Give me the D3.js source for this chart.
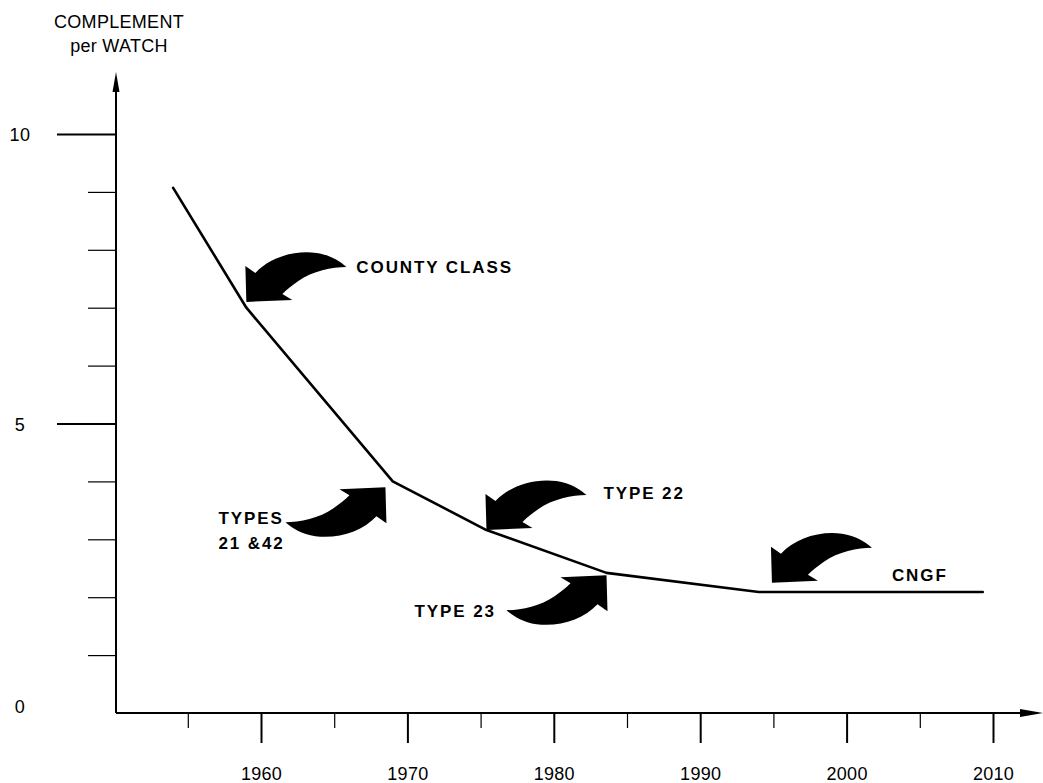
<!DOCTYPE html>
<html>
<head>
<meta charset="utf-8" />
<title>Complement per watch</title>
<style>
  html, body { margin: 0; background: #fff; }
  svg { display: block; }
  text { font-family: "Liberation Sans", Arial, sans-serif; fill: #000; }
  .tick line { stroke: #000; }
  .tick text { font-size: 18px; letter-spacing: 0.3px; }
  .note { font-size: 17px; font-weight: bold; letter-spacing: 1.9px; }
</style>
</head>
<body>
<div id="chart"></div>
<script src="https://cdn.jsdelivr.net/npm/d3@7"></script>
<script>
// complement per watch
var years = [1954, 1959, 1969, 1975.4, 1983.6, 1994, 2009.3];
var complement = [9.07, 7.0, 4.0, 3.16, 2.42, 2.09, 2.09];

var xMajor = [1960, 1970, 1980, 1990, 2000, 2010];
var xMinor = [1955, 1965, 1975, 1985, 1995, 2005];
var yMajor = [5, 10];
var yMinor = [1, 2, 3, 4, 6, 7, 8, 9];
var yLabels = [0, 5, 10];

// ship annotations (arrow tip in data units)
var noteLabels = [["COUNTY CLASS"], ["TYPE 22"], ["CNGF"], ["TYPES", "21 &42"], ["TYPE 23"]];
var noteYears = [1959.0, 1975.4, 1994.9, 1968.5, 1983.6];
var noteValues = [7.1, 3.16, 2.25, 3.9, 2.38];
var noteDirs = ["down", "down", "down", "up", "up"];
// label offset from arrow tip, px
var noteDx = [110, 117, 120, -167, -192];
var noteDy = [-35, -37, -8, 31, 36];

var W = 1043, H = 783;

var x = d3.scaleLinear().domain([1950, 2010]).range([114.6, 993]);
var y = d3.scaleLinear().domain([0, 10]).range([713, 134]);

var svg = d3.select("#chart").append("svg")
    .attr("width", W)
    .attr("height", H);

// title
var title = svg.append("text")
    .attr("text-anchor", "middle")
    .style("font-size", "18px")
    .style("letter-spacing", "0.3px");
title.append("tspan").attr("x", 119).attr("y", 28).text("COMPLEMENT");
title.append("tspan").attr("x", 119).attr("y", 52).text("per WATCH");

// x axis
var gx = svg.append("g").attr("transform", "translate(0," + y(0) + ")");
gx.append("g")
    .call(d3.axisBottom(x).tickValues(xMajor).tickSize(30).tickPadding(24).tickFormat(d3.format("d")))
    .call(function(g) { g.select(".domain").remove(); })
    .call(function(g) { g.selectAll(".tick line").attr("stroke-width", 2); })
    .call(function(g) { g.selectAll(".tick text").attr("font-size", null).attr("font-family", null); });
gx.append("g")
    .call(d3.axisBottom(x).tickValues(xMinor).tickSize(15).tickFormat(""))
    .call(function(g) { g.select(".domain").remove(); })
    .call(function(g) { g.selectAll(".tick line").attr("stroke-width", 1.2); });

// y axis
var x0 = x(1950) + 1.4;
var gy = svg.append("g").attr("transform", "translate(" + x0 + ",0)");
gy.append("g")
    .call(d3.axisLeft(y).tickValues(yMajor).tickSize(59).tickFormat(""))
    .call(function(g) { g.select(".domain").remove(); })
    .call(function(g) { g.selectAll(".tick line").attr("stroke-width", 2); });
gy.append("g")
    .call(d3.axisLeft(y).tickValues(yMinor).tickSize(28).tickFormat(""))
    .call(function(g) { g.select(".domain").remove(); })
    .call(function(g) { g.selectAll(".tick line").attr("stroke-width", 1.2); });

svg.append("g").selectAll("text")
    .data(yLabels)
    .join("text")
    .attr("x", 20)
    .attr("y", function(d) { return d === 0 ? y(d) - 6 : y(d) + 1; })
    .attr("dy", "0.35em")
    .attr("text-anchor", "middle")
    .style("font-size", "18px")
    .style("letter-spacing", "0.5px")
    .text(function(d) { return d; });

// axis lines with arrow heads
svg.append("line")
    .attr("x1", x0).attr("y1", y(0))
    .attr("x2", x0).attr("y2", 82)
    .attr("stroke", "#000").attr("stroke-width", 2);
svg.append("path")
    .attr("d", "M" + x0 + ",72 L" + (x0 - 3.5) + ",92 L" + (x0 + 3.5) + ",92 Z")
    .attr("fill", "#000");
svg.append("line")
    .attr("x1", x0).attr("y1", y(0))
    .attr("x2", 1030).attr("y2", y(0))
    .attr("stroke", "#000").attr("stroke-width", 2);
svg.append("path")
    .attr("d", "M1043," + y(0) + " L1020," + (y(0) - 4) + " L1020," + (y(0) + 4) + " Z")
    .attr("fill", "#000");

// the curve
var line = d3.line()
    .x(function(d, i) { return x(years[i]); })
    .y(function(d) { return y(d); });

svg.append("path")
    .datum(complement)
    .attr("d", line)
    .attr("fill", "none")
    .attr("stroke", "#000")
    .attr("stroke-width", 2.6)
    .attr("stroke-linejoin", "round")
    .attr("stroke-linecap", "round");

// fat curved arrow, tip at origin, pointing down-left
var arrowShape = "M0,0 L-1,-36 L9,-29 C23,-44 47,-52 70,-49 C84,-47 93,-41 100,-35 " +
    "C86,-35 66,-31 52,-21 C46,-17 40,-12 36,-8 L46,-2 Z";

var notes = svg.append("g").selectAll("g")
    .data(noteLabels)
    .join("g")
    .attr("transform", function(d, i) {
      return "translate(" + x(noteYears[i]) + "," + y(noteValues[i]) + ")";
    });

notes.append("path")
    .attr("d", arrowShape)
    .attr("fill", "#000")
    .attr("transform", function(d, i) { return noteDirs[i] === "up" ? "rotate(180)" : null; });

notes.append("text")
    .attr("class", "note")
    .each(function(d, i) {
      var t = d3.select(this);
      d.forEach(function(s, k) {
        t.append("tspan")
          .attr("x", noteDx[i])
          .attr("y", noteDy[i] + k * 25)
          .attr("dy", "0.35em")
          .text(s);
      });
    });
</script>
</body>
</html>
